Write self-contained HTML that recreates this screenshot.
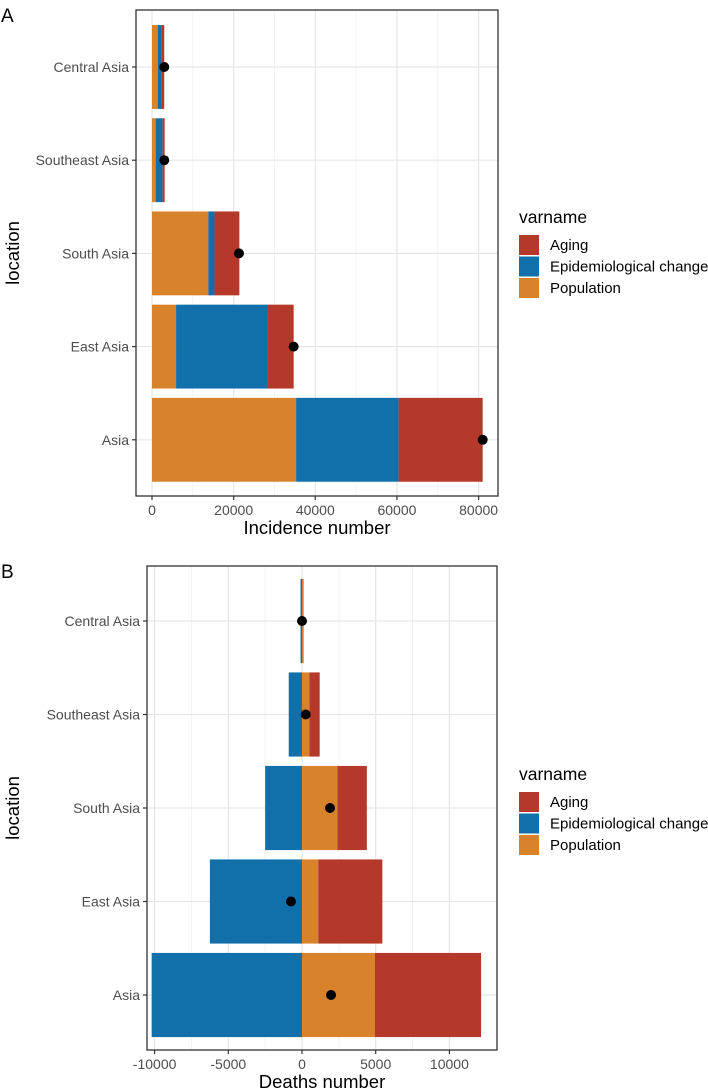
<!DOCTYPE html>
<html><head><meta charset="utf-8">
<style>
html,body{margin:0;padding:0;background:#fff;}
svg{display:block;font-family:"Liberation Sans",Arial,sans-serif;}
</style></head>
<body>
<svg id="c" width="708" height="1090" xmlns="http://www.w3.org/2000/svg"></svg>
<script>
const categories = ["Central Asia","Southeast Asia","South Asia","East Asia","Asia"];
const seriesNames = ["Aging","Epidemiological change","Population"];
// Panel A (incidence): population, epi, aging increments
const incPop   = [1400, 900, 13800, 5900, 35300];
const incEpi   = [900, 1700, 1500, 22400, 25100];
const incAging = [700, 500, 6100, 6400, 20600];
const incTotal = [3000, 3000, 21300, 34700, 81000];
const incTicks = [0, 20000, 40000, 60000, 80000];
// Panel B (deaths)
const dthPop   = [50, 500, 2400, 1100, 4950];
const dthEpi   = [-100, -900, -2500, -6250, -10200];
const dthAging = [50, 700, 2000, 4350, 7200];
const dthTotal = [0, 250, 1900, -750, 1970];
const dthTicks = [-10000, -5000, 0, 5000, 10000];

const COL = {"Aging":"#B5392B","Epidemiological change":"#1170AA","Population":"#D8832B"};
const NS = "http://www.w3.org/2000/svg";
const svg = document.getElementById("c");
function el(tag, attrs, parent){
  const e = document.createElementNS(NS, tag);
  for (const k in attrs) e.setAttribute(k, attrs[k]);
  (parent||svg).appendChild(e);
  return e;
}

function panel(cfg){
  const g = el("g", {});
  
  
  const {left,right,top,bottom,x0,xPerUnit,bandTop,band} = cfg;
  const X = v => x0 + v * xPerUnit;
  const Y = i => bandTop + i * band;
  el("rect",{x:left,y:top,width:right-left,height:bottom-top,fill:"#fff"},g);
  for (let i=0;i<cfg.ticks.length-1;i++){
    const mx = X((cfg.ticks[i]+cfg.ticks[i+1])/2);
    el("line",{x1:mx,x2:mx,y1:top,y2:bottom,stroke:"#f0f0f0","stroke-width":0.8},g);
  }
  cfg.ticks.forEach(t=>{
    el("line",{x1:X(t),x2:X(t),y1:top,y2:bottom,stroke:"#e6e6e6","stroke-width":1.2},g);
  });
  categories.forEach((c,i)=>{
    el("line",{x1:left,x2:right,y1:Y(i),y2:Y(i),stroke:"#e6e6e6","stroke-width":1.2},g);
  });
  const bh = band*0.9;
  categories.forEach((c,i)=>{
    const y = Y(i)-bh/2;
    let segs;
    if (cfg.negEpi){
      segs = [["Epidemiological change",cfg.epi[i],0],["Population",0,cfg.pop[i]],["Aging",cfg.pop[i],cfg.pop[i]+cfg.aging[i]]];
    } else {
      const a = cfg.pop[i], b = a+cfg.epi[i];
      segs = [["Population",0,a],["Epidemiological change",a,b],["Aging",b,b+cfg.aging[i]]];
    }
    segs.forEach(s=>{
      const x1 = X(Math.min(s[1],s[2])), x2 = X(Math.max(s[1],s[2]));
      const r = el("rect",{x:x1,y:y,width:Math.max(x2-x1,0.6),height:bh,fill:COL[s[0]]},g);
      
      
    });
    const d = el("circle",{cx:X(cfg.total[i]),cy:Y(i),r:5,fill:"#000"},g);
    
    
    el("line",{x1:left-4,x2:left,y1:Y(i),y2:Y(i),stroke:"#333","stroke-width":1.2},g);
    const t = el("text",{x:left-7,y:Y(i)+5,"text-anchor":"end","font-size":14,fill:"#4d4d4d"},g);
    t.textContent = c;
    
    
  });
  el("rect",{x:left,y:top,width:right-left,height:bottom-top,fill:"none",stroke:"#333","stroke-width":1.3},g);
  cfg.ticks.forEach(t=>{
    el("line",{x1:X(t),x2:X(t),y1:bottom,y2:bottom+4,stroke:"#333","stroke-width":1.2},g);
    const tx = el("text",{x:X(t),y:bottom+19,"text-anchor":"middle","font-size":14,fill:"#4d4d4d"},g);
    tx.textContent = t;
    
    
  });
  const xt = el("text",{x:(left+right)/2,y:bottom+38,"text-anchor":"middle","font-size":18.5,fill:"#000"},g);
  xt.textContent = cfg.xTitle;
  
  
  const yt = el("text",{x:0,y:0,"text-anchor":"middle","font-size":18.5,fill:"#000",transform:`translate(19,${(top+bottom)/2}) rotate(-90)`},g);
  yt.textContent = "location";
  
  
  const pl = el("text",{x:1,y:top+12,"font-size":19,fill:"#000"},g);
  pl.textContent = cfg.label;
  
  
  const lg = el("g",{},g);
  
  
  const lt = el("text",{x:519,y:cfg.legY,"font-size":17.5,fill:"#000"},lg);
  lt.textContent = "varname";
  seriesNames.forEach((s,k)=>{
    const ky = cfg.legY+12+k*21.5;
    el("rect",{x:519,y:ky,width:20,height:20,fill:COL[s]},lg);
    const tt = el("text",{x:550,y:ky+15,"font-size":15,fill:"#000"},lg);
    tt.textContent = s;
    
    
  });
}

panel({name:"panel-a",label:"A",left:136,right:498,top:10,bottom:496,x0:152,xPerUnit:81.65/20000,
  bandTop:67,band:93.2,ticks:incTicks,pop:incPop,epi:incEpi,aging:incAging,total:incTotal,
  xTitle:"Incidence number",negEpi:false,legY:223});
panel({name:"panel-b",label:"B",left:147,right:497,top:566,bottom:1050,x0:302,xPerUnit:73.7/5000,
  bandTop:621,band:93.5,ticks:dthTicks,pop:dthPop,epi:dthEpi,aging:dthAging,total:dthTotal,
  xTitle:"Deaths number",negEpi:true,legY:780});
</script>
</body></html>
